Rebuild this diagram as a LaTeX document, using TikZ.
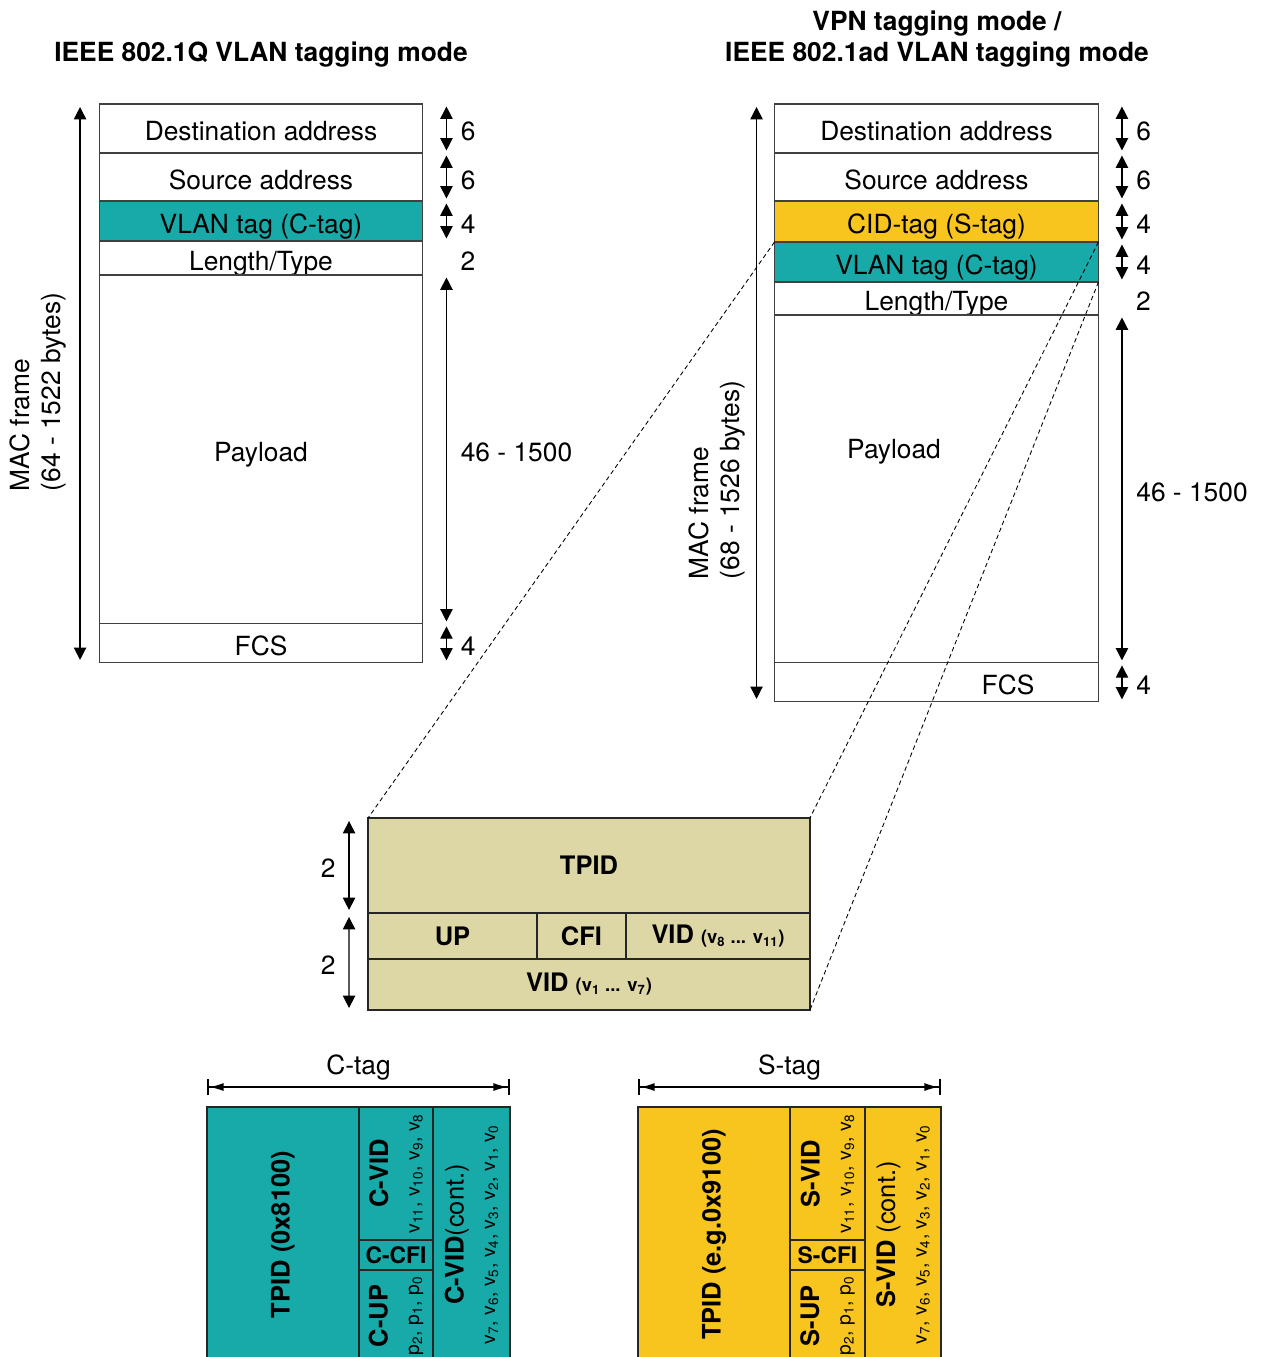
\documentclass[tikz,border=0pt]{standalone}
\usepackage{fontspec}
\setmainfont{TeX Gyre Heros}
\usetikzlibrary{arrows.meta,positioning}
\definecolor{ctagteal}{RGB}{23,170,168}
\definecolor{stagyellow}{RGB}{248,196,30}
\definecolor{tpidkhaki}{RGB}{221,215,166}

\begin{document}
\begin{tikzpicture}[
  x=0.02cm, y=-0.02cm,
  every node/.style={font=\fontsize{15}{18}\selectfont},
  field/.style={draw=black!75, line width=0.6pt, fill=#1, minimum width=6.48cm, inner sep=0pt, outer sep=0pt, text height=14pt, text depth=0pt},
  field/.default=white,
  numlbl/.style={text height=14pt, text depth=0pt},
  tagbox/.style={draw=black!85, line width=1.4pt, fill=#1, inner sep=0pt, outer sep=0pt},
  dimarrow/.style={{Triangle[length=7pt,width=7pt]}-{Triangle[length=7pt,width=7pt]}, line width=0.7pt},
  tagspan/.style={{Bar[width=9pt,line width=1.4pt]Latex[length=8pt,width=4.5pt]}-{Latex[length=8pt,width=4.5pt]Bar[width=9pt,line width=1.4pt]}, line width=0.7pt},
  zoomline/.style={dash pattern=on 2.5pt off 1.8pt, line width=0.5pt},
  boldtxt/.style={font=\fontsize{14.5}{17}\selectfont\bfseries},
  vtxt/.style={rotate=90, align=center, font=\fontsize{14.5}{18}\selectfont}
]
\useasboundingbox (0,0) rectangle (1261,1357);

% headings
\node[font=\fontsize{15}{18}\selectfont\bfseries] (lhead) at (261,55) {IEEE 802.1Q VLAN tagging mode};
\node[font=\fontsize{15}{18}\selectfont\bfseries, align=center] (rhead) at (937,39) {VPN tagging mode /\\IEEE 802.1ad VLAN tagging mode};

% 802.1Q frame
\node[field, minimum height=0.98cm] (ldst) at (261,128.5) {Destination address};
\node[field, minimum height=0.96cm, below=0pt of ldst] (lsrc) {Source address};
\node[field=ctagteal, minimum height=0.8cm, below=0pt of lsrc] (lctag) {VLAN tag (C-tag)};
\node[field, minimum height=0.68cm, below=0pt of lctag] (llen) {Length/Type};
\node[field, minimum height=6.98cm, below=0pt of llen] (lpay) {Payload};
\node[field, minimum height=0.78cm, below=0pt of lpay] (lfcs) {FCS};

% 802.1ad frame
\node[field, minimum height=0.98cm] (rdst) at (936.5,128.5) {Destination address};
\node[field, minimum height=0.96cm, below=0pt of rdst] (rsrc) {Source address};
\node[field=stagyellow, minimum height=0.82cm, below=0pt of rsrc] (rstag) {CID-tag (S-tag)};
\node[field=ctagteal, minimum height=0.8cm, below=0pt of rstag] (rctag) {VLAN tag (C-tag)};
\node[field, minimum height=0.66cm, below=0pt of rctag] (rlen) {Length/Type};
\node[field, minimum height=6.96cm, below=0pt of rlen] (rpay) {};
\node[field, minimum height=0.78cm, below=0pt of rpay] (rfcs) {};
\node[numlbl] (rpaytxt) at (894,446) {Payload};
\node (rfcstxt) at (1008,685) {FCS};

% field sizes
\foreach \f/\n in {ldst/6, lsrc/6, lctag/4, lpay/46 - 1500, lfcs/4, rdst/6, rsrc/6, rstag/4, rctag/4, rpay/46 - 1500, rfcs/4}
  \draw[dimarrow] ([xshift=0.47cm,yshift=-0.05cm]\f.north east) -- ([xshift=0.47cm,yshift=0.05cm]\f.south east) node[midway, right=4.5pt, numlbl] {\n};
\node[right=4.5pt, numlbl] (llen2) at ([xshift=0.47cm]llen.east) {2};
\node[right=4.5pt, numlbl] (rlen2) at ([xshift=0.47cm]rlen.east) {2};

% frame lengths
\draw[dimarrow] ([xshift=-0.38cm,yshift=-0.06cm]ldst.north west) -- ([xshift=-0.38cm,yshift=0.06cm]lfcs.south west);
\node[rotate=90, align=left] (lmac) at (38,392) {MAC frame\\(64 - 1522 bytes)};
\draw[dimarrow] ([xshift=-0.36cm,yshift=-0.06cm]rdst.north west) -- ([xshift=-0.36cm,yshift=0.06cm]rfcs.south west);
\node[rotate=90, align=left] (rmac) at (717,480) {MAC frame\\(68 - 1526 bytes)};

% tag detail
\node[tagbox=tpidkhaki, boldtxt, minimum width=8.84cm, minimum height=1.9cm] (tpid) at (589,865.5) {TPID};
\node[tagbox=tpidkhaki, boldtxt, minimum width=3.38cm, minimum height=0.92cm] (up) at (452.5,936) {UP};
\node[tagbox=tpidkhaki, boldtxt, minimum width=1.78cm, minimum height=0.92cm] (cfi) at (581.5,936) {CFI};
\node[tagbox=tpidkhaki, boldtxt, minimum width=3.68cm, minimum height=0.92cm] (vidh) at (718,936) {VID {\fontsize{10.5}{12}\selectfont(v\textsubscript{8} ... v\textsubscript{11})}};
\node[tagbox=tpidkhaki, boldtxt, minimum width=8.84cm, minimum height=1.02cm] (vidl) at (589,984.5) {VID {\fontsize{10.5}{12}\selectfont(v\textsubscript{1} ... v\textsubscript{7})}};
\draw[dimarrow] ([xshift=-0.38cm,yshift=-0.06cm]tpid.north west) -- ([xshift=-0.38cm,yshift=0.06cm]tpid.south west) node[midway, left=4pt, numlbl] {2};
\draw[dimarrow] ([xshift=-0.38cm,yshift=-0.08cm]up.north west) -- ([xshift=-0.38cm,yshift=0.04cm]vidl.south west) node[midway, left=4pt, numlbl] {2};

% C-tag
\node[tagbox=ctagteal, minimum width=3.04cm, minimum height=5.1cm] (ctpid) at (283,1234.5) {};
\node[tagbox=ctagteal, minimum width=1.48cm, minimum height=2.66cm] (cvid) at (396,1173.5) {};
\node[tagbox=ctagteal, minimum width=1.48cm, minimum height=0.6cm, font=\fontsize{13}{15}\selectfont\bfseries] (ccfi) at (396,1255) {C-CFI};
\node[tagbox=ctagteal, minimum width=1.48cm, minimum height=1.84cm] (cup) at (396,1316) {};
\node[tagbox=ctagteal, minimum width=1.54cm, minimum height=5.1cm] (cvidc) at (471.5,1234.5) {};
\node[vtxt] (ctpidtxt) at (ctpid) {\bfseries TPID (0x8100)};
\node[vtxt] (cvidtxt) at (cvid) {\textbf{C-VID}\\{\fontsize{11}{13}\selectfont v\textsubscript{11}, v\textsubscript{10}, v\textsubscript{9}, v\textsubscript{8}}};
\node[vtxt] (cuptxt) at (cup) {\textbf{C-UP}\\{\fontsize{11}{13}\selectfont p\textsubscript{2}, p\textsubscript{1}, p\textsubscript{0}}};
\node[vtxt] (cvidctxt) at (cvidc) {\textbf{C-VID}(cont.)\\{\fontsize{11}{13}\selectfont v\textsubscript{7}, v\textsubscript{6}, v\textsubscript{5}, v\textsubscript{4}, v\textsubscript{3}, v\textsubscript{2}, v\textsubscript{1}, v\textsubscript{0}}};
\draw[tagspan] ([yshift=0.4cm]ctpid.north west) -- ([yshift=0.4cm]cvidc.north east) node[midway, above=0pt] (ctaglbl) {C-tag};

% S-tag
\node[tagbox=stagyellow, minimum width=3.04cm, minimum height=5.1cm] (stpid) at (714,1234.5) {};
\node[tagbox=stagyellow, minimum width=1.5cm, minimum height=2.66cm] (svid) at (827.5,1173.5) {};
\node[tagbox=stagyellow, minimum width=1.5cm, minimum height=0.6cm, font=\fontsize{13}{15}\selectfont\bfseries] (scfi) at (827.5,1255) {S-CFI};
\node[tagbox=stagyellow, minimum width=1.5cm, minimum height=1.84cm] (sup) at (827.5,1316) {};
\node[tagbox=stagyellow, minimum width=1.52cm, minimum height=5.1cm] (svidc) at (903,1234.5) {};
\node[vtxt] (stpidtxt) at (stpid) {\bfseries TPID (e.g.0x9100)};
\node[vtxt] (svidtxt) at (svid) {\textbf{S-VID}\\{\fontsize{11}{13}\selectfont v\textsubscript{11}, v\textsubscript{10}, v\textsubscript{9}, v\textsubscript{8}}};
\node[vtxt] (suptxt) at (sup) {\textbf{S-UP}\\{\fontsize{11}{13}\selectfont p\textsubscript{2}, p\textsubscript{1}, p\textsubscript{0}}};
\node[vtxt] (svidctxt) at (svidc) {\textbf{S-VID} (cont.)\\{\fontsize{11}{13}\selectfont v\textsubscript{7}, v\textsubscript{6}, v\textsubscript{5}, v\textsubscript{4}, v\textsubscript{3}, v\textsubscript{2}, v\textsubscript{1}, v\textsubscript{0}}};
\draw[tagspan] ([yshift=0.4cm]stpid.north west) -- ([yshift=0.4cm]svidc.north east) node[midway, above=0pt] (staglbl) {S-tag};

% zoom lines
\draw[zoomline] (rctag.north west) -- (tpid.north west);
\draw[zoomline] (rctag.north east) -- (tpid.north east);
\draw[zoomline] (rctag.south east) -- (vidl.south east);
\end{tikzpicture}
\end{document}
